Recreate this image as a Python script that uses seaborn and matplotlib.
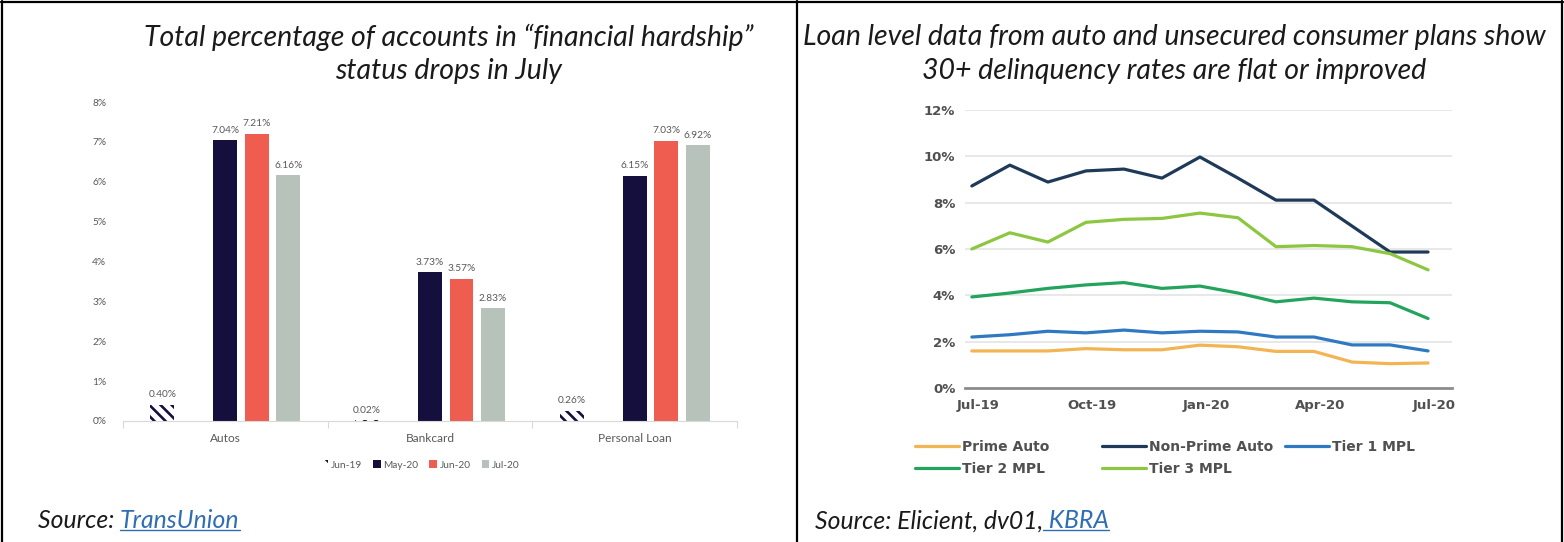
import numpy as np
import pandas as pd
import matplotlib
matplotlib.use("Agg")
import matplotlib.pyplot as plt
import matplotlib.transforms as mtransforms
import seaborn as sns
from matplotlib.patches import Patch
from matplotlib.lines import Line2D
from matplotlib.ticker import FuncFormatter, FixedLocator

# ---------------- hardship share by product ----------------
products = ["Autos", "Bankcard", "Personal Loan"]
periods = ["Jun-19", "May-20", "Jun-20", "Jul-20"]
jun19 = [0.40, 0.02, 0.26]
may20 = [7.04, 3.73, 6.15]
jun20 = [7.21, 3.57, 7.03]
jul20 = [6.16, 2.83, 6.92]

# ---------------- 30+ delinquency by segment ----------------
months = ["Jul-19", "Aug-19", "Sep-19", "Oct-19", "Nov-19", "Dec-19", "Jan-20",
          "Feb-20", "Mar-20", "Apr-20", "May-20", "Jun-20", "Jul-20"]
month_ticks = ["Jul-19", "Oct-19", "Jan-20", "Apr-20", "Jul-20"]
prime_auto = [1.60, 1.60, 1.60, 1.70, 1.65, 1.65, 1.85, 1.78, 1.58, 1.58, 1.12, 1.05, 1.08]
non_prime_auto = [8.72, 9.62, 8.89, 9.37, 9.45, 9.06, 9.97, 9.06, 8.11, 8.11, 6.99, 5.87, 5.87]
tier1_mpl = [2.20, 2.30, 2.45, 2.38, 2.50, 2.38, 2.45, 2.42, 2.20, 2.20, 1.86, 1.86, 1.60]
tier2_mpl = [3.93, 4.10, 4.30, 4.45, 4.55, 4.30, 4.40, 4.10, 3.72, 3.88, 3.72, 3.68, 3.00]
tier3_mpl = [6.00, 6.70, 6.30, 7.15, 7.28, 7.32, 7.55, 7.35, 6.10, 6.15, 6.10, 5.80, 5.10]
segments = ["Prime Auto", "Non-Prime Auto", "Tier 1 MPL", "Tier 2 MPL", "Tier 3 MPL"]

W, H = 1564, 542
sns.set_theme(style="white")
plt.rcParams["font.family"] = ["Lato", "DejaVu Sans"]
plt.rcParams["hatch.linewidth"] = 1.9

fig = plt.figure(figsize=(W / 100, H / 100), dpi=100)
fig.patch.set_facecolor("white")


def fx(x):
    return x / W


def fy(y):
    return 1 - y / H


# ---------------- left panel: grouped bars ----------------
navy = "#140F3C"
bar_colors = {"Jun-19": "white", "_gap": "white", "May-20": navy,
              "Jun-20": "#EF5D50", "Jul-20": "#B6C2BA"}
hue_order = ["Jun-19", "_gap", "May-20", "Jun-20", "Jul-20"]
series = {"Jun-19": jun19, "_gap": [0.0, 0.0, 0.0], "May-20": may20,
          "Jun-20": jun20, "Jul-20": jul20}
bar_df = pd.DataFrame(
    [(p, k, v) for k, vals in series.items() for p, v in zip(products, vals)],
    columns=["product", "period", "value"],
)

ax1 = fig.add_axes([fx(123), fy(421), fx(737) - fx(123), fy(102) - fy(421)])
sns.barplot(data=bar_df, x="product", y="value", hue="period", hue_order=hue_order,
            order=products, palette=bar_colors, width=0.77, gap=0.24, saturation=1,
            linewidth=0, errorbar=None, legend=False, ax=ax1)

grey = "#595959"
for cont in ax1.containers:
    vals = list(np.round(cont.datavalues, 2))
    if vals == [0.0, 0.0, 0.0]:
        continue
    if vals == jun19:
        for bar in cont:
            bar.set_facecolor("white")
            bar.set_edgecolor(navy)
            bar.set_hatch("\\\\\\")
            bar.set_linewidth(0)
    ax1.bar_label(cont, fmt="%.2f%%", padding=4, fontsize=7.3, color=grey)

ax1.set_xlim(-0.5, 2.5)
ax1.set_ylim(0, 8)
ax1.set_xlabel("")
ax1.set_ylabel("")
ax1.yaxis.set_major_locator(FixedLocator(range(0, 9)))
ax1.yaxis.set_major_formatter(FuncFormatter(lambda v, _: f"{v:.0f}%"))
ax1.tick_params(axis="y", length=0, labelsize=7.3, labelcolor=grey, pad=12)
ax1.tick_params(axis="x", length=0, labelsize=8.6, labelcolor=grey, pad=9)
ax1.set_xticks([-0.5, 0.5, 1.5, 2.5], minor=True)
ax1.tick_params(axis="x", which="minor", length=5, width=0.8, color="#D9D9D9",
                direction="out", bottom=True)
for side in ["left", "right", "top"]:
    ax1.spines[side].set_visible(False)
ax1.spines["bottom"].set_color("#D9D9D9")
ax1.spines["bottom"].set_linewidth(0.8)
ax1.grid(False)
ax1.set_facecolor("white")

bar_handles = [
    Patch(facecolor="white", edgecolor=navy, hatch="\\\\", linewidth=0, label="Jun-19"),
    Patch(facecolor=bar_colors["May-20"], linewidth=0, label="May-20"),
    Patch(facecolor=bar_colors["Jun-20"], linewidth=0, label="Jun-20"),
    Patch(facecolor=bar_colors["Jul-20"], linewidth=0, label="Jul-20"),
]
fig.legend(handles=bar_handles, loc="center", bbox_to_anchor=(fx(420), fy(465)),
           ncol=4, frameon=False, fontsize=7.3, labelcolor=grey,
           handlelength=0.75, handleheight=0.75, handletextpad=0.25, columnspacing=1.1)

# ---------------- right panel: delinquency lines ----------------
line_colors = {"Prime Auto": "#F3B453", "Non-Prime Auto": "#1E3A58",
               "Tier 1 MPL": "#2F79C2", "Tier 2 MPL": "#22A45C", "Tier 3 MPL": "#8DC640"}
seg_values = {"Prime Auto": prime_auto, "Non-Prime Auto": non_prime_auto,
              "Tier 1 MPL": tier1_mpl, "Tier 2 MPL": tier2_mpl, "Tier 3 MPL": tier3_mpl}
line_df = pd.DataFrame(
    [(i, m, s, v) for s in segments for i, (m, v) in enumerate(zip(months, seg_values[s]))],
    columns=["idx", "month", "segment", "value"],
)

ax2 = fig.add_axes([fx(965), fy(388), fx(1452) - fx(965), fy(110) - fy(388)])
sns.lineplot(data=line_df, x="idx", y="value", hue="segment", hue_order=segments,
             palette=line_colors, linewidth=2.3, ax=ax2)
ax2.set_xlim(-0.18, 12.63)
ax2.set_ylim(0, 12)
ax2.set_xlabel("")
ax2.set_ylabel("")
ax2.yaxis.set_major_locator(FixedLocator(range(0, 13, 2)))
ax2.yaxis.set_major_formatter(FuncFormatter(lambda v, _: f"{v:.0f}%"))
ax2.set_xticks([months.index(m) for m in month_ticks])
ax2.set_xticklabels(month_ticks)
rgrey = "#505050"
ax2.tick_params(axis="y", length=0, labelsize=9.5, labelcolor=rgrey, pad=7)
ax2.tick_params(axis="x", length=0, labelsize=9.5, labelcolor=rgrey, pad=8)
shift = mtransforms.ScaledTranslation(6 / 100, 0, fig.dpi_scale_trans)
for lab in ax2.get_xticklabels():
    lab.set_transform(lab.get_transform() + shift)
for lab in ax2.get_xticklabels() + ax2.get_yticklabels():
    lab.set_fontfamily(["DejaVu Sans"])
    lab.set_fontweight("bold")
ax2.grid(axis="y", color="#E6E6E6", linewidth=1.3)
ax2.grid(axis="x", visible=False)
for side in ["left", "right", "top"]:
    ax2.spines[side].set_visible(False)
ax2.spines["bottom"].set_color("#8C8C8C")
ax2.spines["bottom"].set_linewidth(2.0)
ax2.set_facecolor("white")

handles, labels = ax2.get_legend_handles_labels()
ax2.get_legend().remove()
lookup = dict(zip(labels, handles))
legend_columns = [
    (915, ["Prime Auto", "Tier 2 MPL"]),
    (1102, ["Non-Prime Auto", "Tier 3 MPL"]),
    (1285, ["Tier 1 MPL"]),
]
for x0, names in legend_columns:
    fig.legend([lookup[k] for k in names], names, loc="upper left",
               bbox_to_anchor=(fx(x0), fy(440)), ncol=1, frameon=False,
               prop={"family": "DejaVu Sans", "weight": "bold", "size": 10},
               labelcolor=rgrey, handlelength=3.2, handletextpad=0.15,
               labelspacing=0.55, borderaxespad=0, borderpad=0)

# ---------------- titles, sources, frame ----------------
title_kw = dict(ha="center", va="center", fontsize=20.5, style="italic",
                fontweight="normal", color="#1A1A1A")
fig.text(fx(449), fy(37), "Total percentage of accounts in \u201cfinancial hardship\u201d", **title_kw)
fig.text(fx(448), fy(71), "status drops in July", **title_kw)
fig.text(fx(1174), fy(37), "Loan level data from auto and unsecured consumer plans show", **title_kw)
fig.text(fx(1174), fy(71), "30+ delinquency rates are flat or improved", **title_kw)

src_kw = dict(ha="left", va="center", fontsize=17.8, style="italic", fontweight="normal")
link_color = "#2F6DB5"
fig.canvas.draw()
renderer = fig.canvas.get_renderer()


def source_line(x, y, plain, link):
    t1 = fig.text(fx(x), fy(y), plain, color="#1A1A1A", **src_kw)
    bb = t1.get_window_extent(renderer)
    t2 = fig.text(bb.x1 / W, fy(y), link, color=link_color, **src_kw)
    bb2 = t2.get_window_extent(renderer)
    uy = bb2.y0 + 3.0
    fig.add_artist(Line2D([bb2.x0 / W, bb2.x1 / W], [uy / H, uy / H],
                          color=link_color, linewidth=1.0, transform=fig.transFigure))


source_line(38, 521, "Source: ", "TransUnion")
source_line(815, 521, "Source: Elicient, dv01,", " KBRA")

frame_kw = dict(color="black", linewidth=1.6, transform=fig.transFigure)
fig.add_artist(Line2D([fx(1), fx(1563)], [fy(1.5), fy(1.5)], **frame_kw))
fig.add_artist(Line2D([fx(1.5), fx(1.5)], [fy(1), fy(542)], **frame_kw))
fig.add_artist(Line2D([fx(1562), fx(1562)], [fy(1), fy(542)], **frame_kw))
fig.add_artist(Line2D([fx(797), fx(797)], [fy(1), fy(542)], **frame_kw))

fig.savefig("out.png", dpi=100, facecolor="white")
